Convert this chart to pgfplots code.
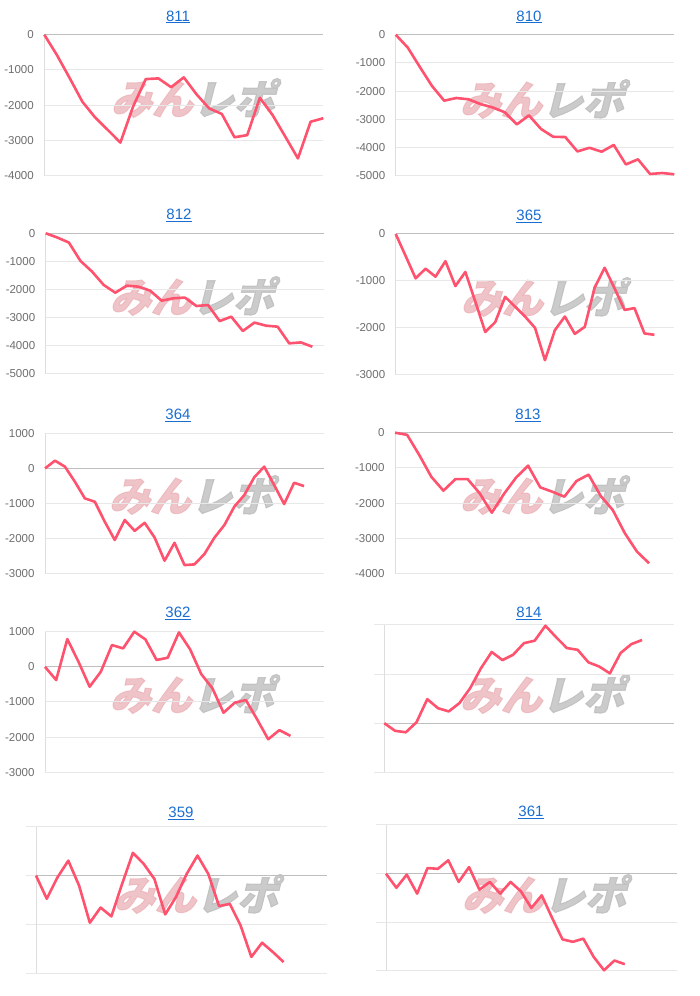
\documentclass[border=0pt]{standalone}
\usepackage{pgfplots}
\pgfplotsset{compat=1.18}
\usepackage{fontspec}
\setmainfont{Liberation Sans}
\newfontfamily\cjk[FakeBold=2.5]{Noto Sans CJK JP}
\definecolor{linered}{RGB}{255,82,110}
\definecolor{gridgray}{RGB}{232,232,232}
\definecolor{basegray}{RGB}{190,190,190}
\definecolor{axisgray}{RGB}{222,222,222}
\definecolor{labelgray}{RGB}{110,110,110}
\definecolor{linkblue}{RGB}{26,110,210}
\definecolor{wmpink}{RGB}{234,176,182}
\definecolor{wmgray}{RGB}{185,185,185}
\pgfplotsset{
  mini/.style={
    scale only axis, anchor=south west, clip=false,
    xmin=0,
    axis line style={draw=none},
    xtick=\empty, xtick style={draw=none},
    extra x ticks={0}, extra x tick labels={},
    extra x tick style={grid=major, major grid style={draw=axisgray, line width=1pt}, tick style={draw=none}},
    ymajorgrids, major grid style={draw=gridgray, line width=1pt},
    extra y ticks={0}, extra y tick labels={},
    extra y tick style={grid=major, major grid style={draw=basegray, line width=1pt}},
    major tick length=0pt,
    ytick pos=left,
    tick label style={font=\fontsize{11.5}{13}\selectfont, text=labelgray},
    yticklabel style={xshift=-7pt},
    /pgf/number format/assume math mode=true,
    /pgf/number format/1000 sep={},
    scaled y ticks=false,
  },
  nolab/.style={
    yticklabels={}, major tick length=10pt, tick align=outside,
    ytick style={draw=gridgray, line width=1pt},
    extra y tick style={tick style={draw=basegray, line width=1pt}},
  },
  ser/.style={linered, line width=2.6pt, line join=round, no markers},
}
\newcommand{\ttl}[3]{\node[font=\fontsize{15}{17}\selectfont, text=linkblue] at (#1,#2) {\underline{#3}};}
\newcommand{\wm}[2]{\node[font=\cjk\bfseries\fontsize{41}{41}\selectfont, xslant=0.25, opacity=0.75, inner sep=0pt] at (#1,#2-2) {\textcolor{wmpink}{みん}\textcolor{wmgray}{レポ}};}
\begin{document}
\begin{tikzpicture}[x=1pt,y=1pt]
\path (0,0) rectangle (700,996);
% watermarks
\wm{197}{900}\wm{546}{899}
\wm{196}{702}\wm{547}{701}
\wm{195}{503}\wm{546}{503}
\wm{196}{304}\wm{546}{304}
\wm{200}{104}\wm{548}{104}
% titles
\ttl{178}{979}{811}\ttl{529}{979}{810}
\ttl{179}{781}{812}\ttl{529}{780}{365}
\ttl{178}{581}{364}\ttl{528}{581}{813}
\ttl{178}{383}{362}\ttl{529}{383}{814}
\ttl{181}{183}{359}\ttl{531}{184}{361}

% 811
\begin{axis}[mini, at={(44.3pt,820.3pt)}, width=279pt, height=141pt,
  xmax=22, ymin=-4000, ymax=0, ytick={-4000,-3000,-2000,-1000,0}]
\addplot[ser] coordinates {(0,0)(1,-580)(2,-1230)(3,-1900)(4,-2345)(5,-2700)(6,-3060)(7,-2040)(8,-1260)(9,-1240)(10,-1490)(11,-1210)(12,-1690)(13,-2090)(14,-2250)(15,-2910)(16,-2850)(17,-1790)(18,-2280)(19,-2890)(20,-3510)(21,-2470)(22,-2370)};
\end{axis}
% 810
\begin{axis}[mini, at={(395.7pt,820.3pt)}, width=278.6pt, height=141pt,
  xmax=23, ymin=-5000, ymax=0, ytick={-5000,-4000,-3000,-2000,-1000,0}]
\addplot[ser] coordinates {(0,0)(1,-460)(2,-1150)(3,-1820)(4,-2340)(5,-2245)(6,-2290)(7,-2460)(8,-2580)(9,-2750)(10,-3180)(11,-2860)(12,-3345)(13,-3620)(14,-3630)(15,-4140)(16,-4010)(17,-4150)(18,-3910)(19,-4600)(20,-4420)(21,-4940)(22,-4905)(23,-4950)};
\end{axis}
% 812
\begin{axis}[mini, at={(45.7pt,622.3pt)}, width=278.3pt, height=140.4pt,
  xmax=24, ymin=-5000, ymax=0, ytick={-5000,-4000,-3000,-2000,-1000,0}]
\addplot[ser] coordinates {(0,0)(1,-150)(2,-330)(3,-985)(4,-1365)(5,-1840)(6,-2115)(7,-1865)(8,-1900)(9,-2040)(10,-2400)(11,-2315)(12,-2290)(13,-2590)(14,-2555)(15,-3125)(16,-2970)(17,-3480)(18,-3180)(19,-3290)(20,-3325)(21,-3920)(22,-3885)(23,-4040)};
\end{axis}
% 365
\begin{axis}[mini, at={(395.7pt,621.3pt)}, width=278.6pt, height=140.7pt,
  xmax=28, ymin=-3000, ymax=0, ytick={-3000,-2000,-1000,0}]
\addplot[ser] coordinates {(0,0)(1,-470)(2,-945)(3,-740)(4,-910)(5,-580)(6,-1110)(7,-810)(8,-1440)(9,-2090)(10,-1880)(11,-1340)(12,-1550)(13,-1760)(14,-2000)(15,-2690)(16,-2050)(17,-1760)(18,-2130)(19,-1980)(20,-1140)(21,-720)(22,-1160)(23,-1620)(24,-1580)(25,-2120)(26,-2150)};
\end{axis}
% 364
\begin{axis}[mini, at={(45pt,422.3pt)}, width=279pt, height=140.4pt,
  xmax=28, ymin=-3000, ymax=1000, ytick={-3000,-2000,-1000,0,1000}]
\addplot[ser] coordinates {(0,0)(1,220)(2,50)(3,-380)(4,-855)(5,-950)(6,-1520)(7,-2040)(8,-1470)(9,-1780)(10,-1550)(11,-1970)(12,-2630)(13,-2120)(14,-2755)(15,-2735)(16,-2440)(17,-1975)(18,-1615)(19,-1090)(20,-760)(21,-255)(22,50)(23,-475)(24,-1015)(25,-410)(26,-505)};
\end{axis}
% 813
\begin{axis}[mini, at={(395pt,422.3pt)}, width=278.3pt, height=141pt,
  xmax=23, ymin=-4000, ymax=0, ytick={-4000,-3000,-2000,-1000,0}]
\addplot[ser] coordinates {(0,0)(1,-60)(2,-630)(3,-1250)(4,-1645)(5,-1315)(6,-1315)(7,-1720)(8,-2270)(9,-1740)(10,-1275)(11,-935)(12,-1550)(13,-1675)(14,-1815)(15,-1370)(16,-1190)(17,-1795)(18,-2195)(19,-2855)(20,-3375)(21,-3705)};
\end{axis}
% 362
\begin{axis}[mini, at={(45pt,223.7pt)}, width=279pt, height=140.6pt,
  xmax=25, ymin=-3000, ymax=1000, ytick={-3000,-2000,-1000,0,1000}]
\addplot[ser] coordinates {(0,0)(1,-375)(2,790)(3,145)(4,-565)(5,-140)(6,620)(7,525)(8,1000)(9,780)(10,195)(11,260)(12,980)(13,500)(14,-205)(15,-610)(16,-1305)(17,-1020)(18,-945)(19,-1490)(20,-2060)(21,-1800)(22,-1965)};
\end{axis}
% 814
\begin{axis}[mini, nolab, at={(384.3pt,223.7pt)}, width=290pt, height=147.3pt,
  xmax=27, ymin=-1000, ymax=2000, ytick={-1000,0,1000,2000}]
\addplot[ser] coordinates {(0,0)(1,-155)(2,-185)(3,20)(4,490)(5,305)(6,240)(7,410)(8,715)(9,1120)(10,1450)(11,1285)(12,1395)(13,1630)(14,1680)(15,1985)(16,1750)(17,1530)(18,1495)(19,1240)(20,1155)(21,1015)(22,1430)(23,1610)(24,1695)};
\end{axis}
% 359
\begin{axis}[mini, nolab, at={(36pt,22.7pt)}, width=290.7pt, height=146.6pt,
  xmax=27, ymin=-2000, ymax=1000, ytick={-2000,-1000,0,1000}]
\addplot[ser] coordinates {(0,0)(1,-475)(2,-35)(3,305)(4,-205)(5,-965)(6,-655)(7,-835)(8,-170)(9,465)(10,240)(11,-70)(12,-795)(13,-440)(14,35)(15,410)(16,35)(17,-625)(18,-580)(19,-1020)(20,-1665)(21,-1375)(22,-1565)(23,-1770)};
\end{axis}
% 361
\begin{axis}[mini, nolab, at={(386pt,25pt)}, width=290.7pt, height=146pt,
  xmax=28, ymin=-2000, ymax=1000, ytick={-2000,-1000,0,1000}]
\addplot[ser] coordinates {(0,0)(1,-290)(2,-20)(3,-410)(4,115)(5,100)(6,275)(7,-170)(8,135)(9,-330)(10,-170)(11,-410)(12,-170)(13,-365)(14,-705)(15,-445)(16,-910)(17,-1350)(18,-1400)(19,-1335)(20,-1710)(21,-1985)(22,-1785)(23,-1860)};
\end{axis}
\end{tikzpicture}
\end{document}
